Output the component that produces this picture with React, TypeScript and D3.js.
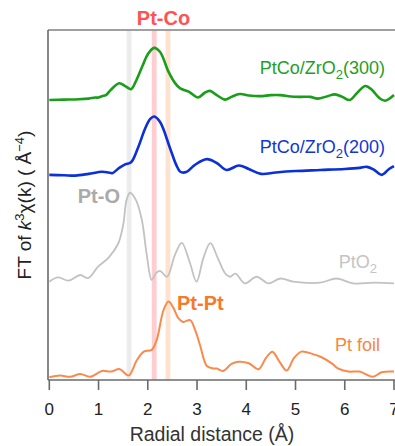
import React from "react";
import * as d3 from "d3";

// radial distance (Å) and signal of each spectrum, relative to its own baseline
const foilR = [0, 0.22, 0.42, 0.63, 0.83, 1.07, 1.25, 1.43, 1.61, 1.78, 1.92, 2.08, 2.18, 2.32, 2.42, 2.52, 2.62, 2.72, 2.86, 2.96, 3.06, 3.2, 3.33, 3.4, 3.53, 3.7, 3.84, 4.05, 4.25, 4.4, 4.53, 4.68, 4.82, 4.97, 5.12, 5.35, 5.53, 5.75, 5.86, 6.07, 6.3, 6.57, 6.75, 7.0];
const foilY = [0.08, 0.13, 0.09, 0.17, 0.09, 0.26, 0.24, 0.31, 0.13, 0.57, 0.81, 0.86, 1.14, 2.0, 2.24, 2.06, 1.77, 1.66, 1.71, 1.43, 1.0, 0.4, 0.33, 0.33, 0.26, 0.46, 0.52, 0.48, 0.31, 0.63, 0.81, 0.51, 0.27, 0.63, 0.81, 0.74, 0.65, 0.46, 0.33, 0.24, 0.24, 0.09, 0.22, 0.24];

const pto2R = [0, 0.18, 0.39, 0.63, 0.79, 0.99, 1.2, 1.4, 1.5, 1.57, 1.64, 1.76, 1.88, 1.98, 2.08, 2.17, 2.25, 2.39, 2.55, 2.69, 2.85, 2.99, 3.13, 3.27, 3.42, 3.57, 3.67, 3.78, 3.97, 4.21, 4.45, 4.69, 4.95, 5.5, 5.83, 6.17, 6.6, 7.0];
const pto2Y = [0.06, 0.18, 0.09, 0.25, 0.16, 0.49, 0.74, 1.15, 1.68, 2.4, 2.6, 2.39, 1.82, 0.82, 0.11, 0.31, 0.37, 0.2, 0.82, 1.17, 0.62, 0.06, 0.74, 1.16, 0.74, 0.3, 0.2, 0.29, 0.01, 0.2, 0.01, 0.15, 0.06, 0.03, 0.15, 0.01, 0.03, 0.01];

const s200R = [0, 0.3, 0.53, 0.8, 1.07, 1.2, 1.28, 1.42, 1.54, 1.66, 1.8, 1.95, 2.05, 2.13, 2.25, 2.45, 2.58, 2.66, 2.78, 2.95, 3.2, 3.4, 3.6, 3.85, 4.05, 4.3, 4.6, 5.0, 5.5, 6.0, 6.3, 6.45, 6.6, 6.75, 6.9, 7.0];
const s200Y = [0.01, 0.0, -0.01, 0.04, 0.1, 0.08, 0.06, 0.21, 0.31, 0.37, 0.78, 1.35, 1.61, 1.68, 1.52, 0.78, 0.29, 0.1, 0.09, 0.29, 0.46, 0.35, 0.15, 0.28, 0.18, 0.04, 0.08, 0.12, 0.15, 0.18, 0.21, 0.24, 0.15, 0.01, 0.18, 0.26];

const s300R = [0, 0.3, 0.6, 0.8, 0.93, 1.0, 1.07, 1.15, 1.25, 1.42, 1.55, 1.66, 1.75, 1.9, 2.0, 2.13, 2.25, 2.42, 2.55, 2.66, 2.83, 3.02, 3.15, 3.26, 3.4, 3.57, 3.7, 3.87, 4.05, 4.28, 4.5, 4.69, 4.9, 5.1, 5.3, 5.45, 5.65, 5.8, 5.95, 6.1, 6.25, 6.42, 6.55, 6.7, 6.82, 7.0];
const s300Y = [0, 0.01, 0.02, 0.04, 0.07, 0.07, 0.11, 0.14, 0.29, 0.48, 0.39, 0.31, 0.51, 1.0, 1.31, 1.49, 1.37, 0.81, 0.49, 0.33, 0.24, 0.07, 0.2, 0.26, 0.14, 0.01, 0.09, 0.17, 0.13, 0.11, 0.14, 0.14, 0.1, 0.09, 0.09, 0.04, 0.11, 0.16, 0.09, 0.0, 0.2, 0.4, 0.29, 0.06, -0.02, 0.14];

const offsets = [0, 2.75, 5.85, 8.0];
const xTicks = [0, 1, 2, 3, 4, 5, 6, 7];
const bands = [1.62, 2.13, 2.41];

const W = 395;
const H = 446;
const FONT = "Liberation Sans, Arial, Helvetica, sans-serif";

export default function App() {
  const x = d3.scaleLinear().domain([0, 7]).range([49.3, 394]);
  const y = d3.scaleLinear().domain([0, 10]).range([380, 30]);

  const series = [
    { r: foilR, v: foilY, off: offsets[0], color: "#fa8a4c", w: 2 },
    { r: pto2R, v: pto2Y, off: offsets[1], color: "#c2c2c2", w: 1.8 },
    { r: s200R, v: s200Y, off: offsets[2], color: "#0b30d8", w: 2.6 },
    { r: s300R, v: s300Y, off: offsets[3], color: "#1a9e1a", w: 2.6 },
  ];

  const line = d3
    .line<[number, number]>()
    .x((d) => x(d[0]))
    .y((d) => y(d[1]))
    .curve(d3.curveCatmullRom.alpha(0.5));

  const bandColors = ["#ececec", "#ffcdd0", "#fde2cf"];
  const top = y(10);
  const bottom = y(0);

  return (
    <svg width={W} height={H} style={{ position: "absolute", left: 0, top: 0 }} fontFamily={FONT}>
      {/* reference bands */}
      {bands.map((b, i) => (
        <rect key={b} x={x(b) - 2.4} y={top} width={4.8} height={bottom - top} fill={bandColors[i]} />
      ))}

      {/* frame */}
      <line x1={48} x2={W} y1={top} y2={top} stroke="#808080" strokeWidth={1.6} />
      <line x1={48} x2={48} y1={top} y2={bottom} stroke="#6a6a6a" strokeWidth={1.6} />
      <line x1={48} x2={W} y1={bottom} y2={bottom} stroke="#6a6a6a" strokeWidth={1.6} />

      {series.map((s, i) => (
        <path
          key={i}
          d={line(s.r.map((r, j) => [r, s.v[j] + s.off]) as [number, number][]) || ""}
          fill="none"
          stroke={s.color}
          strokeWidth={s.w}
          strokeLinejoin="round"
        />
      ))}

      {/* x axis ticks */}
      {xTicks.map((t) => (
        <g key={t}>
          <line x1={x(t)} x2={x(t)} y1={bottom} y2={bottom + 10} stroke="#6a6a6a" strokeWidth={1.6} />
          <text x={x(t)} y={415} textAnchor="middle" fontSize={17} fill="#222">
            {t}
          </text>
        </g>
      ))}
      <text x={212} y={441} textAnchor="middle" fontSize={19.5} fill="#333">
        Radial distance (Å)
      </text>

      {/* y label */}
      <text transform="translate(31,205) rotate(-90)" textAnchor="middle" fontSize={19} fill="#222">
        FT of <tspan fontStyle="italic">k</tspan>
        <tspan dy={-7} fontSize={13}>3</tspan>
        <tspan dy={7}>χ(k) ( Å</tspan>
        <tspan dy={-7} fontSize={13}>−4</tspan>
        <tspan dy={7}>)</tspan>
      </text>

      {/* annotations */}
      <text x={163.5} y={25} textAnchor="middle" fontSize={20} fontWeight="bold" fill="#ff5252">
        Pt-Co
      </text>
      <text x={385} y={73.5} textAnchor="end" fontSize={18} fill="#1fa01f">
        PtCo/ZrO<tspan dy={5} fontSize={13}>2</tspan>
        <tspan dy={-5}>(300)</tspan>
      </text>
      <text x={385} y={153} textAnchor="end" fontSize={18} fill="#1236d4">
        PtCo/ZrO<tspan dy={5} fontSize={13}>2</tspan>
        <tspan dy={-5}>(200)</tspan>
      </text>
      <text x={120} y={203} textAnchor="end" fontSize={20} fontWeight="bold" fill="#aaaaaa">
        Pt-O
      </text>
      <text x={377} y={268} textAnchor="end" fontSize={18} fill="#c4c4c4">
        PtO<tspan dy={5} fontSize={13}>2</tspan>
      </text>
      <text x={177} y={310} fontSize={20} fontWeight="bold" fill="#f67a2c">
        Pt-Pt
      </text>
      <text x={380} y={351} textAnchor="end" fontSize={18} fill="#f7873f">
        Pt foil
      </text>
    </svg>
  );
}
